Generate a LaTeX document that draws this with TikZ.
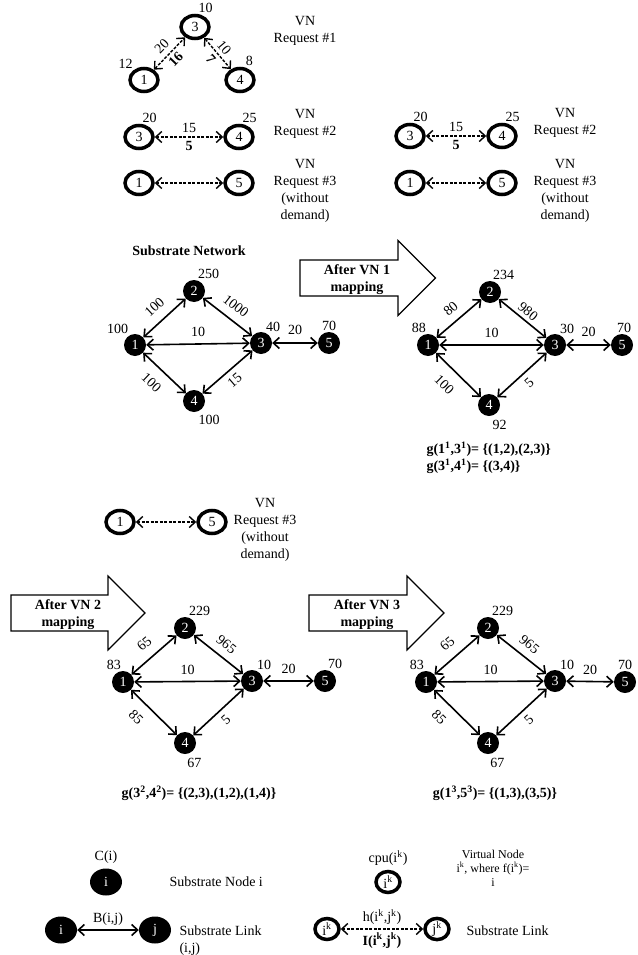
\documentclass[tikz,border=0pt]{standalone}
\usepackage{fontspec}
\setmainfont{Liberation Serif}
\usetikzlibrary{arrows.meta, shapes.geometric, positioning}

\newcommand{\bigtxt}{\fontsize{14}{17}\selectfont}
\newcommand{\smalltxt}{\fontsize{12}{14}\selectfont}
\newcommand{\sk}[1]{\textsuperscript{#1}}

\begin{document}
\begin{tikzpicture}[
    x=1pt, y=-1pt,
    font=\bigtxt,
    >={Straight Barb[length=6pt,width=11pt]},
    vnode/.style={ellipse, draw, line width=3.5pt, minimum width=28pt, minimum height=23pt, inner sep=0pt},
    vsmall/.style={vnode, minimum width=24pt, minimum height=21pt},
    snode/.style={circle, fill=black, text=white, minimum size=22pt, inner sep=0pt},
    lnode/.style={ellipse, fill=black, text=white, minimum width=32pt, minimum height=27pt, inner sep=0pt},
    bold/.style={font=\bigtxt\bfseries},
    slink/.style={<->, line width=1.6pt},
    vlink/.style={<->, line width=1.4pt, dash pattern=on 3pt off 1.5pt},
    mapbox/.style={draw, line width=1.2pt, fill=white},
    every label/.style={text=black, inner sep=1pt}
]
    \useasboundingbox (0,0) rectangle (637,955);

    % VN requests (left)
    \node (r1a) [vnode, label={135:12}] at (144,80) {1};
    \node (r1c) [vnode, label={80:10}] at (195,27) {3};
    \node (r1d) [vnode, label={70:8}] at (240,80) {4};
    \draw [vlink] (r1a) -- node[above=2pt, sloped] {20} node[below, sloped, bold] {16} (r1c);
    \draw [vlink] (r1c) -- node[above, sloped] {10} node[below, sloped, bold] {7} (r1d);
    \node (t1) [align=center] at (305,31) {VN\\Request \#1};

    \node (r2a) [vnode, label={80:20}] at (139,137) {3};
    \node (r2b) [vnode, label={80:25}] at (239,137) {4};
    \draw [vlink] (r2a) -- node[above] {15} node[below, bold] {5} (r2b);
    \node (t2) [align=center] at (305,124) {VN\\Request \#2};

    \node (r3a) [vnode] at (139,183) {1};
    \node (r3b) [vnode] at (239,183) {5};
    \draw [vlink] (r3a) -- (r3b);
    \node (t3) [align=center] at (305,191) {VN\\Request \#3\\(without\\demand)};

    % VN requests (right)
    \node (q2a) [vnode, label={80:20}] at (410,136) {3};
    \node (q2b) [vnode, label={80:25}] at (502,136) {4};
    \draw [vlink] (q2a) -- node[above] {15} node[below, bold] {5} (q2b);
    \node (u2) [align=center] at (565,123) {VN\\Request \#2};

    \node (q3a) [vnode] at (410,183) {1};
    \node (q3b) [vnode] at (502,183) {5};
    \draw [vlink] (q3a) -- (q3b);
    \node (u3) [align=center] at (565,191) {VN\\Request \#3\\(without\\demand)};

    % substrate network
    \node (title) [bold] at (189,251) {Substrate Network};
    \node (s1) [snode, label={120:100}] at (135,345) {1};
    \node (s2) [snode, label={75:250}] at (194,291) {2};
    \node (s3) [snode, label={70:40}] at (261,343) {3};
    \node (s4) [snode, label={[label distance=2pt]-75:100}] at (194,401) {4};
    \node (s5) [snode, label={90:70}] at (329,343) {5};
    \draw [slink] (s1) -- node[above=6pt, sloped] {100} (s2);
    \draw [slink] (s2) -- node[above=5pt, sloped] {1000} (s3);
    \draw [slink] (s1) -- node[above=3pt] {10} (s3);
    \draw [slink] (s1) -- node[below=7pt, sloped, pos=0.45] {100} (s4);
    \draw [slink] (s4) -- node[below=2pt, sloped] {15} (s3);
    \draw [slink] (s3) -- node[above=4pt] {20} (s5);

    \draw [mapbox] (300,260) -- (398,260) -- (398,240.5) -- (435.5,278) -- (398,315.5) -- (398,296) -- (300,296) -- cycle;
    \node (m1) [bold, align=center] at (357,280) {After VN 1\\mapping};

    % after VN 1
    \node (a1) [snode, label={95:88}] at (428,345) {1};
    \node (a2) [snode, label={80:234}] at (490,292) {2};
    \node (a3) [snode, label={70:30}] at (555,345) {3};
    \node (a4) [snode, label={[label distance=3pt]-80:92}] at (489,405) {4};
    \node (a5) [snode, label={[xshift=2pt]90:70}] at (622,345) {5};
    \draw [slink] (a1) -- node[above=4pt, sloped] {80} (a2);
    \draw [slink] (a2) -- node[above, sloped] {980} (a3);
    \draw [slink] (a1) -- node[above=3pt] {10} (a3);
    \draw [slink] (a1) -- node[below=8pt, sloped, pos=0.45] {100} (a4);
    \draw [slink] (a4) -- node[below=2pt, sloped] {5} (a3);
    \draw [slink] (a3) -- node[above=4pt] {20} (a5);
    \node (g1) [bold, align=left, anchor=west] at (423,458) {g(1\sk{1},3\sk{1})= \{(1,2),(2,3)\}\\g(3\sk{1},4\sk{1})= \{(3,4)\}};

    % VN request 3 again
    \node (p3a) [vnode] at (120,522) {1};
    \node (p3b) [vnode] at (212,522) {5};
    \draw [vlink] (p3a) -- (p3b);
    \node (w3) [align=center] at (265,530) {VN\\Request \#3\\(without\\demand)};

    \draw [mapbox] (11,595) -- (108,595) -- (108,576) -- (145,613) -- (108,650) -- (108,631) -- (11,631) -- cycle;
    \node (m2) [bold, align=center] at (68,615) {After VN 2\\mapping};
    \draw [mapbox] (309,595) -- (407,595) -- (407,576) -- (444,613) -- (407,650) -- (407,631) -- (309,631) -- cycle;
    \node (m3) [bold, align=center] at (367,615) {After VN 3\\mapping};

    % after VN 2
    \node (b1) [snode, label={95:83}] at (123,682) {1};
    \node (b2) [snode, label={75:229}] at (185,628) {2};
    \node (b3) [snode, label={70:10}] at (252,681) {3};
    \node (b4) [snode, label={[label distance=3pt]-85:67}] at (185,743) {4};
    \node (b5) [snode, label={80:70}] at (325,681) {5};
    \draw [slink] (b1) -- node[above=6pt, sloped] {65} (b2);
    \draw [slink] (b2) -- node[above=4pt, sloped] {965} (b3);
    \draw [slink] (b1) -- node[below=7pt, sloped, pos=0.35] {85} (b4);
    \draw [slink] (b1) -- node[above=3pt] {10} (b3);
    \draw [slink] (b4) -- node[below=2pt, sloped] {5} (b3);
    \draw [slink] (b3) -- node[above=3pt] {20} (b5);
    \node (g2) [bold] at (199,793) {g(3\sk{2},4\sk{2})= \{(2,3),(1,2),(1,4)\}};

    % after VN 3
    \node (c1) [snode, label={95:83}] at (426,682) {1};
    \node (c2) [snode, label={75:229}] at (488,628) {2};
    \node (c3) [snode, label={70:10}] at (555,681) {3};
    \node (c4) [snode, label={[label distance=3pt]-85:67}] at (488,743) {4};
    \node (c5) [snode, label={90:70}] at (625,682) {5};
    \draw [slink] (c1) -- node[above=6pt, sloped] {65} (c2);
    \draw [slink] (c2) -- node[above=4pt, sloped] {965} (c3);
    \draw [slink] (c1) -- node[below=7pt, sloped, pos=0.35] {85} (c4);
    \draw [slink] (c1) -- node[above=3pt] {10} (c3);
    \draw [slink] (c4) -- node[below=2pt, sloped] {5} (c3);
    \draw [slink] (c3) -- node[above=3pt] {20} (c5);
    \node (g3) [bold] at (495,793) {g(1\sk{3},5\sk{3})= \{(1,3),(3,5)\}};

    % legend
    \node (li) [lnode, label={[label distance=4pt]90:C(i)}] at (106,882) {i};
    \node (lidesc) [anchor=west] at (166,882) {Substrate Node i};
    \node (lli) [lnode] at (61,930) {i};
    \node (llj) [lnode] at (155,930) {j};
    \draw [slink] (lli) -- node[above] {B(i,j)} (llj);
    \node (lldesc) [anchor=west, align=left] at (176,941) {Substrate Link\\(i,j)};

    \node (lv) [vsmall, label={[label distance=3pt]90:cpu(i\sk{k})}] at (388,882) {i\sk{k}};
    \node (lvdesc) [align=center, font=\smalltxt] at (493,868) {Virtual Node\\i\sk{k}, where f(i\sk{k})=\\i};
    \node (lvi) [vsmall] at (327,929) {i\sk{k}};
    \node (lvj) [vsmall] at (437,929) {j\sk{k}};
    \draw [vlink] (lvi) -- node[above] {h(i\sk{k},j\sk{k})} node[below, bold] {I(i\sk{k},j\sk{k})} (lvj);
    \node (lvdesc2) [anchor=west] at (463,931) {Substrate Link};
\end{tikzpicture}
\end{document}
